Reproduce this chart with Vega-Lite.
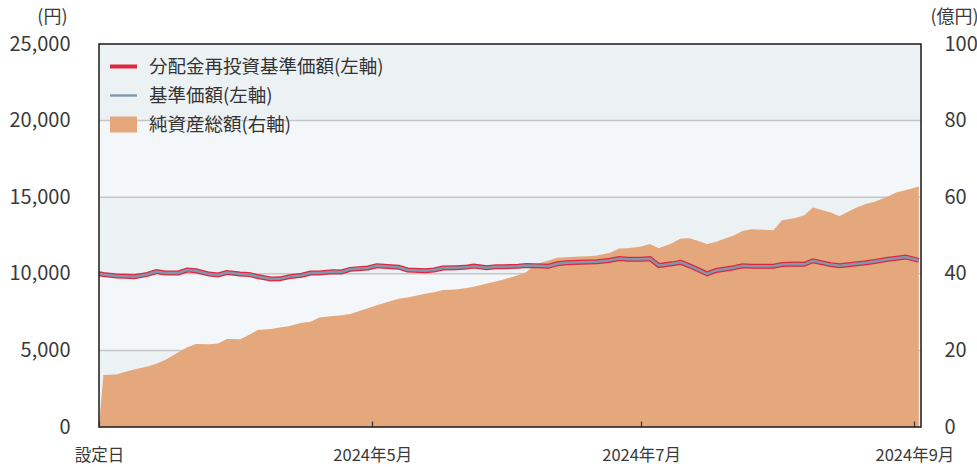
{
  "$schema": "https://vega.github.io/schema/vega-lite/v6.json",
  "width": 822,
  "height": 383,
  "autosize": {"type": "none"},
  "padding": {"left": 99, "top": 44, "right": 56, "bottom": 40},
  "config": {
    "view": {"stroke": null, "fill": "#f4f7f9"},
    "font": "Noto Sans CJK JP",
    "axis": {"labelFont": "Noto Sans CJK JP", "titleFont": "Noto Sans CJK JP", "labelColor": "#3a3a3a", "titleColor": "#3a3a3a", "titleFontWeight": "normal"},
    "legend": {"labelFont": "Noto Sans CJK JP"}
  },
  "datasets": {
    "bands": [{"lo": 0, "hi": 5000}, {"lo": 10000, "hi": 15000}, {"lo": 20000, "hi": 25000}],
    "grid": [{"v": 5000}, {"v": 10000}, {"v": 15000}, {"v": 20000}],
    "frame": [{"lo": 0, "hi": 25000}],
    "fund": [
      {"date": "2024-02-29", "nav": 10000, "assets": 0},
      {"date": "2024-03-01", "nav": 9950, "assets": 13.6},
      {"date": "2024-03-04", "nav": 9860, "assets": 13.7},
      {"date": "2024-03-06", "nav": 9840, "assets": 14.4},
      {"date": "2024-03-08", "nav": 9810, "assets": 15.0},
      {"date": "2024-03-11", "nav": 9960, "assets": 15.8},
      {"date": "2024-03-13", "nav": 10150, "assets": 16.5},
      {"date": "2024-03-15", "nav": 10050, "assets": 17.5},
      {"date": "2024-03-18", "nav": 10060, "assets": 19.5},
      {"date": "2024-03-20", "nav": 10240, "assets": 20.8},
      {"date": "2024-03-22", "nav": 10200, "assets": 21.7},
      {"date": "2024-03-25", "nav": 9980, "assets": 21.6},
      {"date": "2024-03-27", "nav": 9920, "assets": 21.8},
      {"date": "2024-03-29", "nav": 10080, "assets": 23.0},
      {"date": "2024-04-01", "nav": 9990, "assets": 22.9},
      {"date": "2024-04-03", "nav": 9960, "assets": 24.0},
      {"date": "2024-04-05", "nav": 9820, "assets": 25.3},
      {"date": "2024-04-08", "nav": 9660, "assets": 25.6},
      {"date": "2024-04-10", "nav": 9670, "assets": 26.0},
      {"date": "2024-04-12", "nav": 9800, "assets": 26.3},
      {"date": "2024-04-15", "nav": 9910, "assets": 27.2},
      {"date": "2024-04-17", "nav": 10050, "assets": 27.5},
      {"date": "2024-04-19", "nav": 10050, "assets": 28.6},
      {"date": "2024-04-22", "nav": 10130, "assets": 29.0},
      {"date": "2024-04-24", "nav": 10120, "assets": 29.2},
      {"date": "2024-04-26", "nav": 10290, "assets": 29.5},
      {"date": "2024-04-30", "nav": 10380, "assets": 31.0},
      {"date": "2024-05-02", "nav": 10520, "assets": 31.8},
      {"date": "2024-05-07", "nav": 10430, "assets": 33.5},
      {"date": "2024-05-09", "nav": 10250, "assets": 33.8},
      {"date": "2024-05-13", "nav": 10200, "assets": 34.8},
      {"date": "2024-05-15", "nav": 10250, "assets": 35.2},
      {"date": "2024-05-17", "nav": 10380, "assets": 35.8},
      {"date": "2024-05-20", "nav": 10400, "assets": 35.9},
      {"date": "2024-05-22", "nav": 10420, "assets": 36.2},
      {"date": "2024-05-24", "nav": 10500, "assets": 36.6},
      {"date": "2024-05-27", "nav": 10400, "assets": 37.5},
      {"date": "2024-05-29", "nav": 10460, "assets": 38.0},
      {"date": "2024-05-31", "nav": 10460, "assets": 38.6},
      {"date": "2024-06-03", "nav": 10500, "assets": 39.6},
      {"date": "2024-06-05", "nav": 10540, "assets": 40.5},
      {"date": "2024-06-07", "nav": 10530, "assets": 42.5},
      {"date": "2024-06-10", "nav": 10500, "assets": 43.5},
      {"date": "2024-06-12", "nav": 10660, "assets": 44.2},
      {"date": "2024-06-14", "nav": 10720, "assets": 44.3},
      {"date": "2024-06-17", "nav": 10750, "assets": 44.5},
      {"date": "2024-06-19", "nav": 10770, "assets": 44.6},
      {"date": "2024-06-21", "nav": 10780, "assets": 44.8},
      {"date": "2024-06-24", "nav": 10880, "assets": 45.5},
      {"date": "2024-06-26", "nav": 11000, "assets": 46.6},
      {"date": "2024-06-28", "nav": 10950, "assets": 46.7},
      {"date": "2024-07-01", "nav": 10950, "assets": 47.1},
      {"date": "2024-07-03", "nav": 10990, "assets": 47.8},
      {"date": "2024-07-05", "nav": 10540, "assets": 46.7},
      {"date": "2024-07-08", "nav": 10650, "assets": 48.0},
      {"date": "2024-07-10", "nav": 10750, "assets": 49.2},
      {"date": "2024-07-12", "nav": 10520, "assets": 49.3},
      {"date": "2024-07-16", "nav": 10000, "assets": 47.8},
      {"date": "2024-07-18", "nav": 10220, "assets": 48.4},
      {"date": "2024-07-22", "nav": 10400, "assets": 50.0},
      {"date": "2024-07-24", "nav": 10520, "assets": 51.2},
      {"date": "2024-07-26", "nav": 10500, "assets": 51.6},
      {"date": "2024-07-29", "nav": 10490, "assets": 51.5},
      {"date": "2024-07-31", "nav": 10500, "assets": 51.4},
      {"date": "2024-08-02", "nav": 10600, "assets": 54.0},
      {"date": "2024-08-05", "nav": 10640, "assets": 54.6},
      {"date": "2024-08-07", "nav": 10620, "assets": 55.3},
      {"date": "2024-08-09", "nav": 10850, "assets": 57.3},
      {"date": "2024-08-13", "nav": 10600, "assets": 56.0},
      {"date": "2024-08-15", "nav": 10520, "assets": 55.0},
      {"date": "2024-08-19", "nav": 10660, "assets": 57.4},
      {"date": "2024-08-21", "nav": 10720, "assets": 58.2},
      {"date": "2024-08-23", "nav": 10800, "assets": 58.8},
      {"date": "2024-08-26", "nav": 10950, "assets": 60.2},
      {"date": "2024-08-28", "nav": 11020, "assets": 61.3},
      {"date": "2024-08-30", "nav": 11100, "assets": 61.8},
      {"date": "2024-09-02", "nav": 10880, "assets": 62.8}
    ]
  },
  "layer": [
    {
      "layer": [
        {
          "data": {"name": "bands"},
          "mark": {"type": "rect", "color": "#ecf1f4"},
          "encoding": {
            "y": {"field": "lo", "type": "quantitative", "scale": {"domain": [0, 25000], "nice": false}, "axis": null},
            "y2": {"field": "hi"}
          }
        },
        {
          "data": {"name": "grid"},
          "mark": {"type": "rule", "color": "#c6c6c6", "strokeWidth": 1.5},
          "encoding": {
            "y": {"field": "v", "type": "quantitative"}
          }
        }
      ]
    },
    {
      "data": {"name": "fund"},
      "mark": {"type": "area", "color": "#e5a77c", "opacity": 1},
      "encoding": {
        "x": {"field": "date", "type": "temporal",
          "scale": {"type": "utc", "domain": [{"year": 2024, "month": 2, "date": 29, "utc": true}, {"year": 2024, "month": 9, "date": 2, "hours": 12, "utc": true}], "nice": false},
          "axis": {"values": [{"year": 2024, "month": 2, "date": 29, "utc": true}, {"year": 2024, "month": 5, "date": 1, "utc": true}, {"year": 2024, "month": 7, "date": 1, "utc": true}, {"year": 2024, "month": 9, "date": 1, "utc": true}],
            "labelExpr": "utcmonth(datum.value) == 1 ? '設定日' : utcyear(datum.value) + '年' + (utcmonth(datum.value) + 1) + '月'",
            "title": null, "grid": false, "domain": false, "ticks": true, "tickSize": -6, "tickColor": "#333", "tickWidth": 1.2,
            "labelFontSize": 16.5, "labelPadding": 26, "labelFlush": false, "zindex": 2}},
        "y": {"field": "assets", "type": "quantitative",
          "scale": {"domain": [0, 100], "nice": false},
          "axis": {"orient": "right", "values": [0, 20, 40, 60, 80, 100], "grid": false, "domain": false, "ticks": false,
            "labelFontSize": 20, "labelPadding": 23, "labelAlign": "left",
            "title": "(億円)", "titleAngle": 0, "titleAlign": "left", "titleBaseline": "middle", "titleX": 9, "titleY": -27, "titleFontSize": 18}},
        "color": {"datum": "純資産総額(右軸)",
          "scale": {"domain": ["分配金再投資基準価額(左軸)", "基準価額(左軸)", "純資産総額(右軸)"], "range": ["#e0263e", "#7f98ad", "#e5a77c"]},
          "legend": {"orient": "none", "legendX": 14.5, "legendY": 12.5, "title": null, "padding": 0,
            "symbolSize": 400, "labelFontSize": 18.5, "labelColor": "#333", "labelOffset": 15.5, "rowPadding": 9, "labelLimit": 500,
            "symbolStrokeWidth": 0,
            "symbolType": {"expr": "datum.label === '純資産総額(右軸)' ? 'M-1.35,-0.8H1.35V0.8H-1.35Z' : datum.label === '基準価額(左軸)' ? 'M-1.35,-0.12H1.35V0.12H-1.35Z' : 'M-1.35,-0.2H1.35V0.2H-1.35Z'"}}}
      }
    },
    {
      "data": {"name": "fund"},
      "encoding": {
        "x": {"field": "date", "type": "temporal",
          "scale": {"type": "utc", "domain": [{"year": 2024, "month": 2, "date": 29, "utc": true}, {"year": 2024, "month": 9, "date": 2, "hours": 12, "utc": true}], "nice": false},
          "axis": {"values": [{"year": 2024, "month": 2, "date": 29, "utc": true}, {"year": 2024, "month": 5, "date": 1, "utc": true}, {"year": 2024, "month": 7, "date": 1, "utc": true}, {"year": 2024, "month": 9, "date": 1, "utc": true}],
            "labelExpr": "utcmonth(datum.value) == 1 ? '設定日' : utcyear(datum.value) + '年' + (utcmonth(datum.value) + 1) + '月'",
            "title": null, "grid": false, "domain": false, "ticks": true, "tickSize": -6, "tickColor": "#333", "tickWidth": 1.2,
            "labelFontSize": 16.5, "labelPadding": 26, "labelFlush": false, "zindex": 2}},
        "y": {"field": "nav", "type": "quantitative",
          "scale": {"domain": [0, 25000], "nice": false},
          "axis": {"orient": "left", "values": [0, 5000, 10000, 15000, 20000, 25000], "format": ",.0f", "grid": false, "domain": false, "ticks": false,
            "labelFontSize": 20, "labelPadding": 29,
            "title": "(円)", "titleAngle": 0, "titleAlign": "right", "titleBaseline": "middle", "titleX": -32, "titleY": -27, "titleFontSize": 18}}
      },
      "layer": [
        {"mark": {"type": "line", "strokeWidth": 5, "color": "#e0263e"},
         "encoding": {"color": {"datum": "分配金再投資基準価額(左軸)"}}},
        {"mark": {"type": "line", "strokeWidth": 2.5, "color": "#7f98ad"},
         "encoding": {"color": {"datum": "基準価額(左軸)"}}}
      ]
    },
    {
      "data": {"name": "frame"},
      "mark": {"type": "rect", "filled": false, "stroke": "#1a1a1a", "strokeWidth": 1.5},
      "encoding": {
        "y": {"field": "lo", "type": "quantitative", "scale": {"domain": [0, 25000], "nice": false}, "axis": null},
        "y2": {"field": "hi"}
      }
    }
  ],
  "resolve": {"scale": {"y": "independent"}}
}
